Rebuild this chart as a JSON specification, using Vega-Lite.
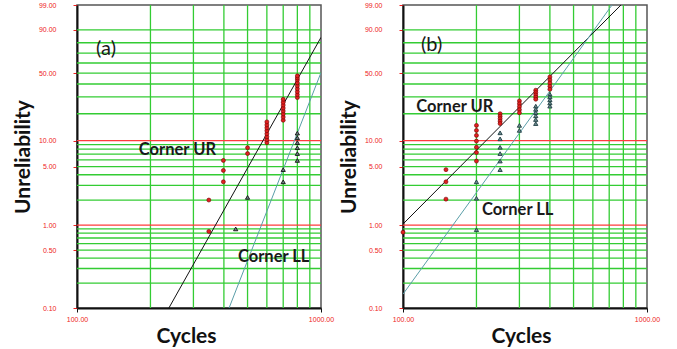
{
  "$schema": "https://vega.github.io/schema/vega-lite/v6.json",
  "padding": {"left": 11, "top": 0, "right": 5, "bottom": 2},
  "background": "white",
  "spacing": 82,
  "bounds": "flush",
  "config": {
    "view": {"stroke": "#555", "strokeWidth": 1.5},
    "font": "Lato",
    "axisY": {
      "labelColor": "#ee2222", "labelFont": "Liberation Sans", "labelFontSize": 7, "labelPadding": 17,
      "tickColor": "#ee2222", "tickSize": 4, "domainColor": "#111", "domainWidth": 2, "grid": false,
      "titleFont": "Lato", "titleFontWeight": "bold", "titleFontSize": 21, "titleColor": "#111", "titlePadding": 5
    },
    "axisX": {
      "labelColor": "#ee2222", "labelFont": "Liberation Sans", "labelFontSize": 7, "labelPadding": 3, "labelFlush": false,
      "tickColor": "#111", "tickSize": 4, "domainColor": "#111", "domainWidth": 2, "grid": false,
      "titleFont": "Lato", "titleFontWeight": "bold", "titleFontSize": 21, "titleColor": "#111", "titlePadding": 3
    }
  },
  "datasets": {
    "ygrid": [
      {"F": 0.2, "k": "g"}, {"F": 0.3, "k": "g"}, {"F": 0.4, "k": "g"}, {"F": 0.5, "k": "g"}, {"F": 0.6, "k": "g"}, {"F": 0.7, "k": "g"}, {"F": 0.8, "k": "g"}, {"F": 0.9, "k": "g"},
      {"F": 2, "k": "g"}, {"F": 3, "k": "g"}, {"F": 4, "k": "g"}, {"F": 5, "k": "g"}, {"F": 6, "k": "g"}, {"F": 7, "k": "g"}, {"F": 8, "k": "g"}, {"F": 9, "k": "g"},
      {"F": 20, "k": "g"}, {"F": 30, "k": "g"}, {"F": 40, "k": "g"}, {"F": 50, "k": "g"}, {"F": 60, "k": "g"}, {"F": 70, "k": "g"}, {"F": 80, "k": "g"}, {"F": 90, "k": "g"},
      {"F": 1, "k": "r"}, {"F": 10, "k": "r"}
    ],
    "xgrid": [{"x": 200}, {"x": 300}, {"x": 400}, {"x": 500}, {"x": 600}, {"x": 700}, {"x": 800}, {"x": 900}],
    "fits": [
      {"p": "a", "c": "UR", "x": 238, "F": 0.1}, {"p": "a", "c": "UR", "x": 1000, "F": 84.6},
      {"p": "a", "c": "LL", "x": 420, "F": 0.1}, {"p": "a", "c": "LL", "x": 1000, "F": 50.5},
      {"p": "b", "c": "UR", "x": 100, "F": 1.03}, {"p": "b", "c": "UR", "x": 782, "F": 99},
      {"p": "b", "c": "LL", "x": 100, "F": 0.147}, {"p": "b", "c": "LL", "x": 719, "F": 99}
    ],
    "pts": [
      {"p": "a", "c": "UR", "x": 347, "F": 2.0}, {"p": "a", "c": "UR", "x": 347, "F": 0.84},
      {"p": "a", "c": "UR", "x": 398, "F": 5.9}, {"p": "a", "c": "UR", "x": 398, "F": 4.5}, {"p": "a", "c": "UR", "x": 398, "F": 3.3},
      {"p": "a", "c": "UR", "x": 500, "F": 8.3}, {"p": "a", "c": "UR", "x": 500, "F": 7.1},
      {"p": "a", "c": "UR", "x": 600, "F": 9.5}, {"p": "a", "c": "UR", "x": 600, "F": 10.3}, {"p": "a", "c": "UR", "x": 600, "F": 11.1}, {"p": "a", "c": "UR", "x": 600, "F": 12.0},
      {"p": "a", "c": "UR", "x": 600, "F": 13.0}, {"p": "a", "c": "UR", "x": 600, "F": 14.0}, {"p": "a", "c": "UR", "x": 600, "F": 15.1}, {"p": "a", "c": "UR", "x": 600, "F": 16.3},
      {"p": "a", "c": "UR", "x": 700, "F": 17.0}, {"p": "a", "c": "UR", "x": 700, "F": 18.4}, {"p": "a", "c": "UR", "x": 700, "F": 19.9}, {"p": "a", "c": "UR", "x": 700, "F": 21.4},
      {"p": "a", "c": "UR", "x": 700, "F": 23.0}, {"p": "a", "c": "UR", "x": 700, "F": 24.7}, {"p": "a", "c": "UR", "x": 700, "F": 26.5}, {"p": "a", "c": "UR", "x": 700, "F": 28.4},
      {"p": "a", "c": "UR", "x": 800, "F": 29.5}, {"p": "a", "c": "UR", "x": 800, "F": 31.6}, {"p": "a", "c": "UR", "x": 800, "F": 33.8}, {"p": "a", "c": "UR", "x": 800, "F": 36.1},
      {"p": "a", "c": "UR", "x": 800, "F": 38.5}, {"p": "a", "c": "UR", "x": 800, "F": 41.0}, {"p": "a", "c": "UR", "x": 800, "F": 43.6}, {"p": "a", "c": "UR", "x": 800, "F": 45.4}, {"p": "a", "c": "UR", "x": 800, "F": 47.3},
      {"p": "a", "c": "LL", "x": 447, "F": 0.9}, {"p": "a", "c": "LL", "x": 500, "F": 2.15},
      {"p": "a", "c": "LL", "x": 700, "F": 4.6}, {"p": "a", "c": "LL", "x": 700, "F": 3.3},
      {"p": "a", "c": "LL", "x": 800, "F": 12.2}, {"p": "a", "c": "LL", "x": 800, "F": 10.8}, {"p": "a", "c": "LL", "x": 800, "F": 9.5}, {"p": "a", "c": "LL", "x": 800, "F": 8.3}, {"p": "a", "c": "LL", "x": 800, "F": 7.1}, {"p": "a", "c": "LL", "x": 800, "F": 5.9},
      {"p": "b", "c": "UR", "x": 100, "F": 0.82},
      {"p": "b", "c": "UR", "x": 150, "F": 4.6}, {"p": "b", "c": "UR", "x": 150, "F": 3.3}, {"p": "b", "c": "UR", "x": 150, "F": 2.05},
      {"p": "b", "c": "UR", "x": 200, "F": 14.9}, {"p": "b", "c": "UR", "x": 200, "F": 13.1}, {"p": "b", "c": "UR", "x": 200, "F": 11.5}, {"p": "b", "c": "UR", "x": 200, "F": 9.9},
      {"p": "b", "c": "UR", "x": 200, "F": 8.4}, {"p": "b", "c": "UR", "x": 200, "F": 7.3}, {"p": "b", "c": "UR", "x": 200, "F": 5.8},
      {"p": "b", "c": "UR", "x": 250, "F": 20.0}, {"p": "b", "c": "UR", "x": 250, "F": 18.8}, {"p": "b", "c": "UR", "x": 250, "F": 17.7}, {"p": "b", "c": "UR", "x": 250, "F": 16.6}, {"p": "b", "c": "UR", "x": 250, "F": 15.6},
      {"p": "b", "c": "UR", "x": 300, "F": 27.3}, {"p": "b", "c": "UR", "x": 300, "F": 25.5}, {"p": "b", "c": "UR", "x": 300, "F": 23.8}, {"p": "b", "c": "UR", "x": 300, "F": 22.1}, {"p": "b", "c": "UR", "x": 300, "F": 20.5},
      {"p": "b", "c": "UR", "x": 350, "F": 34.9}, {"p": "b", "c": "UR", "x": 350, "F": 33.1}, {"p": "b", "c": "UR", "x": 350, "F": 31.4}, {"p": "b", "c": "UR", "x": 350, "F": 29.8}, {"p": "b", "c": "UR", "x": 350, "F": 28.4},
      {"p": "b", "c": "UR", "x": 400, "F": 46.3}, {"p": "b", "c": "UR", "x": 400, "F": 43.5}, {"p": "b", "c": "UR", "x": 400, "F": 40.8}, {"p": "b", "c": "UR", "x": 400, "F": 38.1}, {"p": "b", "c": "UR", "x": 400, "F": 35.6},
      {"p": "b", "c": "LL", "x": 200, "F": 0.88}, {"p": "b", "c": "LL", "x": 200, "F": 2.1}, {"p": "b", "c": "LL", "x": 200, "F": 3.3},
      {"p": "b", "c": "LL", "x": 250, "F": 12.3}, {"p": "b", "c": "LL", "x": 250, "F": 10.5}, {"p": "b", "c": "LL", "x": 250, "F": 8.4}, {"p": "b", "c": "LL", "x": 250, "F": 7.1}, {"p": "b", "c": "LL", "x": 250, "F": 5.8}, {"p": "b", "c": "LL", "x": 250, "F": 4.6},
      {"p": "b", "c": "LL", "x": 300, "F": 14.9}, {"p": "b", "c": "LL", "x": 300, "F": 13.1},
      {"p": "b", "c": "LL", "x": 350, "F": 24.1}, {"p": "b", "c": "LL", "x": 350, "F": 22.3}, {"p": "b", "c": "LL", "x": 350, "F": 20.6}, {"p": "b", "c": "LL", "x": 350, "F": 19.0}, {"p": "b", "c": "LL", "x": 350, "F": 17.3}, {"p": "b", "c": "LL", "x": 350, "F": 15.6},
      {"p": "b", "c": "LL", "x": 400, "F": 31.9}, {"p": "b", "c": "LL", "x": 400, "F": 30.0}, {"p": "b", "c": "LL", "x": 400, "F": 28.0}, {"p": "b", "c": "LL", "x": 400, "F": 26.0}, {"p": "b", "c": "LL", "x": 400, "F": 24.1}
    ],
    "labels": [
      {"p": "a", "k": "panel", "x": 131.5, "F": 74, "t": "(a)"},
      {"p": "a", "k": "corner", "x": 258, "F": 7.9, "t": "Corner UR"},
      {"p": "a", "k": "corner", "x": 640, "F": 0.414, "t": "Corner LL"},
      {"p": "b", "k": "panel", "x": 131, "F": 77.8, "t": "(b)"},
      {"p": "b", "k": "corner", "x": 163, "F": 23.7, "t": "Corner UR"},
      {"p": "b", "k": "corner", "x": 295, "F": 1.53, "t": "Corner LL"}
    ]
  },
  "hconcat": [
    {
      "width": 244, "height": 303,
      "layer": [
        {
          "data": {"name": "ygrid"},
          "transform": [{"filter": "datum.k == 'g'"}, {"calculate": "log(-log(1 - datum.F/100))", "as": "w"}],
          "mark": {"type": "rule", "color": "#33cc33", "strokeWidth": 1.3},
          "encoding": {
            "y": {"field": "w", "type": "quantitative", "scale": {"domain": [-6.90726, 1.52718], "nice": false, "zero": false},
              "axis": {"title": "Unreliability", "values": [-6.90726, -5.29581, -4.60015, -2.9702, -2.25037, -0.366513, 0.834032, 1.52718],
                "labelExpr": "format(100*(1-exp(-exp(datum.value))), '.2f')"}}
          }
        },
        {
          "data": {"name": "xgrid"},
          "mark": {"type": "rule", "color": "#33cc33", "strokeWidth": 1.3},
          "encoding": {
            "x": {"field": "x", "type": "quantitative", "scale": {"type": "log", "domain": [100, 1000], "nice": false},
              "axis": {"title": "Cycles", "values": [100, 1000], "labelExpr": "format(datum.value, '.2f')", "titleX": 109}}
          }
        },
        {
          "data": {"name": "ygrid"},
          "transform": [{"filter": "datum.k == 'r'"}, {"calculate": "log(-log(1 - datum.F/100))", "as": "w"}],
          "mark": {"type": "rule", "color": "#ff3b3b", "strokeWidth": 1.3},
          "encoding": {"y": {"field": "w", "type": "quantitative"}}
        },
        {
          "data": {"name": "fits"},
          "transform": [{"filter": "datum.p == 'a'"}, {"calculate": "log(-log(1 - datum.F/100))", "as": "w"}],
          "mark": {"type": "line", "strokeWidth": 1, "clip": true},
          "encoding": {
            "x": {"field": "x", "type": "quantitative"},
            "y": {"field": "w", "type": "quantitative"},
            "color": {"field": "c", "type": "nominal", "scale": {"domain": ["UR", "LL"], "range": ["#111111", "#5a9ea8"]}, "legend": null}
          }
        },
        {
          "data": {"name": "pts"},
          "transform": [{"filter": "datum.p == 'a' && datum.c == 'UR'"}, {"calculate": "log(-log(1 - datum.F/100))", "as": "w"}],
          "mark": {"type": "point", "shape": "circle", "filled": true, "fill": "#e02020", "stroke": "#700000", "strokeWidth": 0.6, "size": 16, "opacity": 1},
          "encoding": {
            "x": {"field": "x", "type": "quantitative"},
            "y": {"field": "w", "type": "quantitative"}
          }
        },
        {
          "data": {"name": "pts"},
          "transform": [{"filter": "datum.p == 'a' && datum.c == 'LL'"}, {"calculate": "log(-log(1 - datum.F/100))", "as": "w"}],
          "mark": {"type": "point", "shape": "triangle-up", "filled": true, "fill": "#6f8388", "stroke": "#111", "strokeWidth": 0.9, "size": 18, "opacity": 1},
          "encoding": {
            "x": {"field": "x", "type": "quantitative"},
            "y": {"field": "w", "type": "quantitative"}
          }
        },
        {
          "data": {"name": "labels"},
          "transform": [{"filter": "datum.p == 'a' && datum.k == 'corner'"}, {"calculate": "log(-log(1 - datum.F/100))", "as": "w"}],
          "mark": {"type": "text", "font": "Lato", "fontWeight": "bold", "fontSize": 16.5, "color": "#1a1a1a", "align": "center", "baseline": "middle"},
          "encoding": {
            "x": {"field": "x", "type": "quantitative"},
            "y": {"field": "w", "type": "quantitative"},
            "text": {"field": "t"}
          }
        },
        {
          "data": {"name": "labels"},
          "transform": [{"filter": "datum.p == 'a' && datum.k == 'panel'"}, {"calculate": "log(-log(1 - datum.F/100))", "as": "w"}],
          "mark": {"type": "text", "font": "Lato", "fontSize": 20, "color": "#1a1a1a", "align": "center", "baseline": "middle"},
          "encoding": {
            "x": {"field": "x", "type": "quantitative"},
            "y": {"field": "w", "type": "quantitative"},
            "text": {"field": "t"}
          }
        }
      ]
    },
    {
      "width": 244, "height": 303,
      "layer": [
        {
          "data": {"name": "ygrid"},
          "transform": [{"filter": "datum.k == 'g'"}, {"calculate": "log(-log(1 - datum.F/100))", "as": "w"}],
          "mark": {"type": "rule", "color": "#33cc33", "strokeWidth": 1.3},
          "encoding": {
            "y": {"field": "w", "type": "quantitative", "scale": {"domain": [-6.90726, 1.52718], "nice": false, "zero": false},
              "axis": {"title": "Unreliability", "values": [-6.90726, -5.29581, -4.60015, -2.9702, -2.25037, -0.366513, 0.834032, 1.52718],
                "labelExpr": "format(100*(1-exp(-exp(datum.value))), '.2f')"}}
          }
        },
        {
          "data": {"name": "xgrid"},
          "mark": {"type": "rule", "color": "#33cc33", "strokeWidth": 1.3},
          "encoding": {
            "x": {"field": "x", "type": "quantitative", "scale": {"type": "log", "domain": [100, 1000], "nice": false},
              "axis": {"title": "Cycles", "values": [100, 1000], "labelExpr": "format(datum.value, '.2f')", "titleX": 118}}
          }
        },
        {
          "data": {"name": "ygrid"},
          "transform": [{"filter": "datum.k == 'r'"}, {"calculate": "log(-log(1 - datum.F/100))", "as": "w"}],
          "mark": {"type": "rule", "color": "#ff3b3b", "strokeWidth": 1.3},
          "encoding": {"y": {"field": "w", "type": "quantitative"}}
        },
        {
          "data": {"name": "fits"},
          "transform": [{"filter": "datum.p == 'b'"}, {"calculate": "log(-log(1 - datum.F/100))", "as": "w"}],
          "mark": {"type": "line", "strokeWidth": 1, "clip": true},
          "encoding": {
            "x": {"field": "x", "type": "quantitative"},
            "y": {"field": "w", "type": "quantitative"},
            "color": {"field": "c", "type": "nominal", "scale": {"domain": ["UR", "LL"], "range": ["#111111", "#5a9ea8"]}, "legend": null}
          }
        },
        {
          "data": {"name": "pts"},
          "transform": [{"filter": "datum.p == 'b' && datum.c == 'UR'"}, {"calculate": "log(-log(1 - datum.F/100))", "as": "w"}],
          "mark": {"type": "point", "shape": "circle", "filled": true, "fill": "#e02020", "stroke": "#700000", "strokeWidth": 0.6, "size": 16, "opacity": 1},
          "encoding": {
            "x": {"field": "x", "type": "quantitative"},
            "y": {"field": "w", "type": "quantitative"}
          }
        },
        {
          "data": {"name": "pts"},
          "transform": [{"filter": "datum.p == 'b' && datum.c == 'LL'"}, {"calculate": "log(-log(1 - datum.F/100))", "as": "w"}],
          "mark": {"type": "point", "shape": "triangle-up", "filled": true, "fill": "#6f8a90", "stroke": "#1d3d42", "strokeWidth": 0.9, "size": 18, "opacity": 1},
          "encoding": {
            "x": {"field": "x", "type": "quantitative"},
            "y": {"field": "w", "type": "quantitative"}
          }
        },
        {
          "data": {"name": "labels"},
          "transform": [{"filter": "datum.p == 'b' && datum.k == 'corner'"}, {"calculate": "log(-log(1 - datum.F/100))", "as": "w"}],
          "mark": {"type": "text", "font": "Lato", "fontWeight": "bold", "fontSize": 16.5, "color": "#1a1a1a", "align": "center", "baseline": "middle"},
          "encoding": {
            "x": {"field": "x", "type": "quantitative"},
            "y": {"field": "w", "type": "quantitative"},
            "text": {"field": "t"}
          }
        },
        {
          "data": {"name": "labels"},
          "transform": [{"filter": "datum.p == 'b' && datum.k == 'panel'"}, {"calculate": "log(-log(1 - datum.F/100))", "as": "w"}],
          "mark": {"type": "text", "font": "Lato", "fontSize": 20, "color": "#1a1a1a", "align": "center", "baseline": "middle"},
          "encoding": {
            "x": {"field": "x", "type": "quantitative"},
            "y": {"field": "w", "type": "quantitative"},
            "text": {"field": "t"}
          }
        }
      ]
    }
  ]
}
